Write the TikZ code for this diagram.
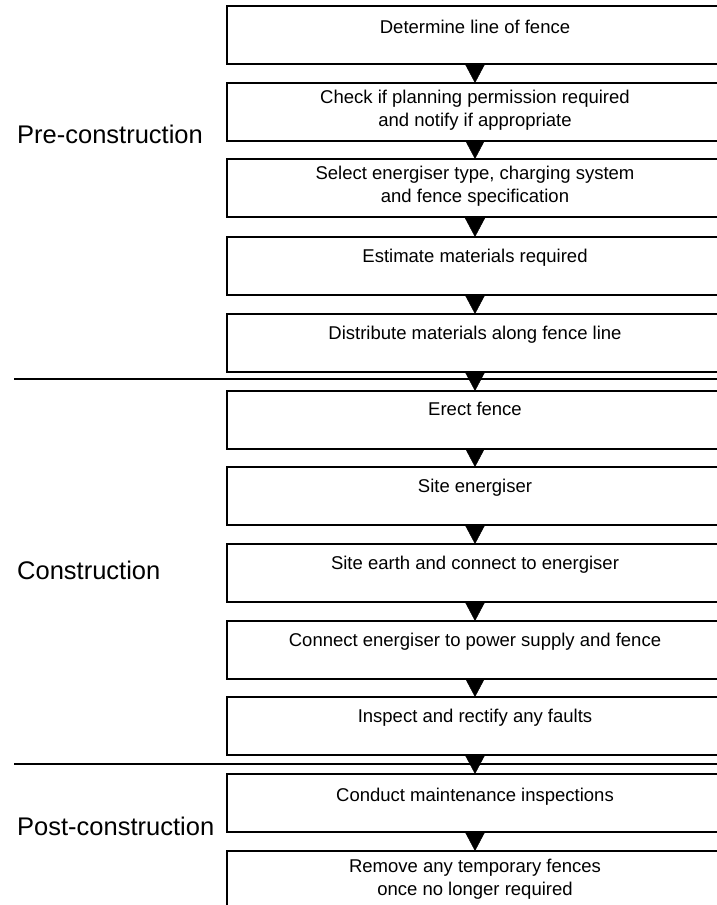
\documentclass[tikz,border=0pt]{standalone}
\usepackage{fontspec}
\setmainfont{Liberation Sans}
\usetikzlibrary{arrows.meta,calc}
\begin{document}
\begin{tikzpicture}[x=1pt,y=-1pt,
  stepbox/.style={draw,line width=1.5pt,minimum width=540pt,minimum height=58pt,inner sep=0pt,outer sep=0pt,anchor=north west},
  boxtext/.style={font=\fontsize{18.5}{23}\selectfont,anchor=base,inner sep=0pt},
  phase/.style={font=\fontsize{25.5}{30}\selectfont,anchor=base west,inner sep=0pt},
  flow/.style={line width=0.4pt,-{Triangle[length=19pt,width=20pt]}},
  divider/.style={line width=2pt}]
\useasboundingbox (0,0) rectangle (717,905);
\clip (0,0) rectangle (717,905);
% boxes (left edge at 227, right edge beyond the picture)
\node[stepbox] (b1) at (227,6) {};
\node[stepbox] (b2) at (227,83) {};
\node[stepbox] (b3) at (227,159) {};
\node[stepbox] (b4) at (227,237) {};
\node[stepbox] (b5) at (227,314) {};
\node[stepbox] (b6) at (227,391) {};
\node[stepbox] (b7) at (227,467) {};
\node[stepbox] (b8) at (227,544) {};
\node[stepbox] (b9) at (227,621) {};
\node[stepbox] (b10) at (227,697) {};
\node[stepbox] (b11) at (227,774) {};
\node[stepbox,minimum height=80pt] (b12) at (227,851) {};
% texts
\node[boxtext] (t1) at ($(b1.north west)+(248,27)$) {Determine line of fence};
\node[boxtext] (t2a) at ($(b2.north west)+(248,20)$) {Check if planning permission required};
\node[boxtext] (t2b) at ($(b2.north west)+(248,43)$) {and notify if appropriate};
\node[boxtext] (t3a) at ($(b3.north west)+(248,20)$) {Select energiser type, charging system};
\node[boxtext] (t3b) at ($(b3.north west)+(248,43)$) {and fence specification};
\node[boxtext] (t4) at ($(b4.north west)+(248,25)$) {Estimate materials required};
\node[boxtext] (t5) at ($(b5.north west)+(248,25)$) {Distribute materials along fence line};
\node[boxtext] (t6) at ($(b6.north west)+(248,24)$) {Erect fence};
\node[boxtext] (t7) at ($(b7.north west)+(248,25)$) {Site energiser};
\node[boxtext] (t8) at ($(b8.north west)+(248,25)$) {Site earth and connect to energiser};
\node[boxtext] (t9) at ($(b9.north west)+(248,25)$) {Connect energiser to power supply and fence};
\node[boxtext] (t10) at ($(b10.north west)+(248,25)$) {Inspect and rectify any faults};
\node[boxtext] (t11) at ($(b11.north west)+(248,27)$) {Conduct maintenance inspections};
\node[boxtext] (t12a) at ($(b12.north west)+(248,21)$) {Remove any temporary fences};
\node[boxtext] (t12b) at ($(b12.north west)+(248,44)$) {once no longer required};
% phase labels
\node[phase] (p1) at (17,143) {Pre-construction};
\node[phase] (p2) at (17,579) {Construction};
\node[phase] (p3) at (17,835) {Post-construction};
% dividers
\coordinate (d1l) at (14,379);
\coordinate (d1r) at (730,379);
\coordinate (d2l) at (14,764);
\coordinate (d2r) at (730,764);
\draw[divider] (d1l) -- (d1r);
\draw[divider] (d2l) -- (d2r);
% connectors
\foreach \a/\b in {b1/b2,b2/b3,b3/b4,b4/b5,b5/b6,b6/b7,b7/b8,b8/b9,b9/b10,b10/b11,b11/b12}
  \draw[flow] ($(\a.south west)+(248,0)$) -- ($(\b.north west)+(248,0)$);
\end{tikzpicture}
\end{document}
